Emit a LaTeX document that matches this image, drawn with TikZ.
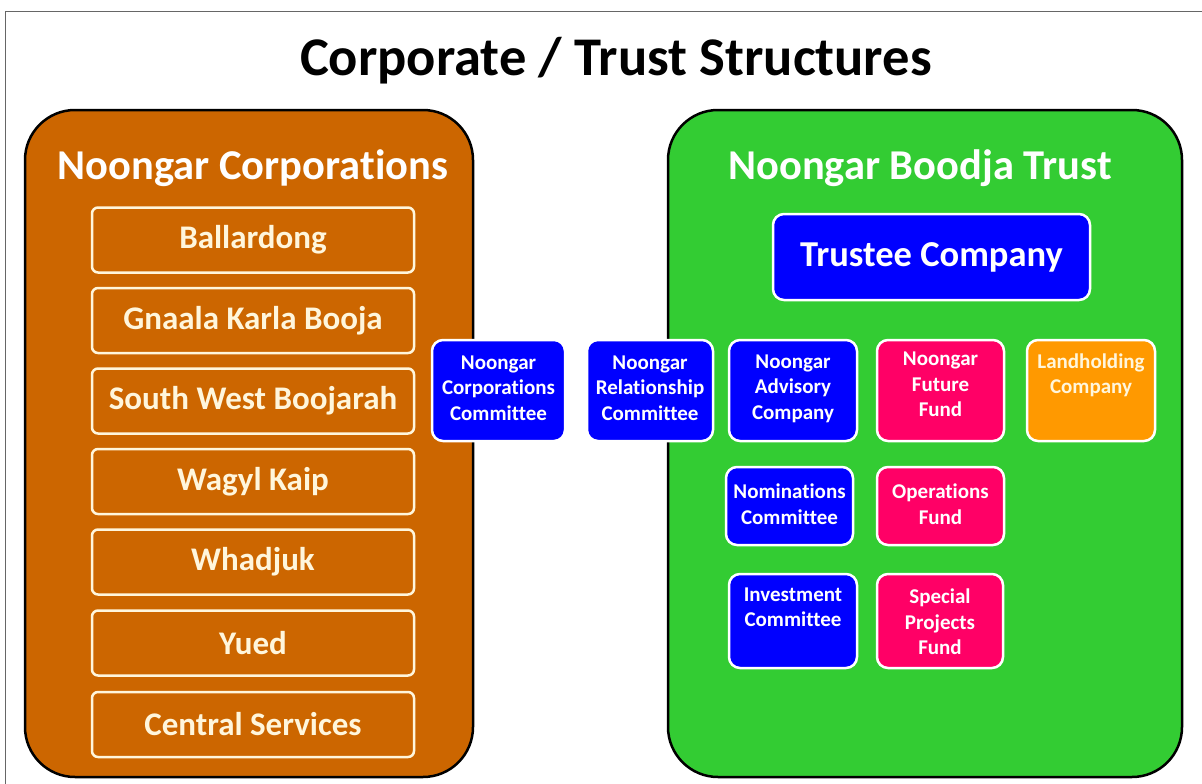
\documentclass[tikz,border=0pt]{standalone}
\usepackage{fontspec}
\setmainfont[Ligatures={NoCommon}]{Carlito}
\definecolor{corpfill}{HTML}{CC6600}
\definecolor{trustfill}{HTML}{33CC33}
\definecolor{bluefill}{HTML}{0000FF}
\definecolor{pinkfill}{HTML}{FF0066}
\definecolor{orangefill}{HTML}{FF9900}
\definecolor{cream}{HTML}{FFF6DC}
\begin{document}
\begin{tikzpicture}[x=1pt,y=-1pt,
  bigbox/.style={draw=black, line width=2.5pt, rounded corners=50pt, inner sep=0pt},
  corpbox/.style={draw=cream, line width=2.5pt, rounded corners=6pt, fill=corpfill,
    minimum width=322pt, minimum height=65pt, inner sep=0pt, text=cream,
    font=\bfseries\fontsize{33}{36}\selectfont},
  smallbox/.style={draw=white, line width=2.5pt, rounded corners=11pt, inner sep=0pt},
  smalltext/.style={text=white, align=center, inner sep=0pt,
    font=\bfseries\fontsize{21}{25.5}\selectfont},
  heading/.style={text=white, inner sep=0pt, font=\bfseries\fontsize{42.5}{46}\selectfont}]
\useasboundingbox (0,0) rectangle (1202,784);
\fill[white] (0,0) rectangle (1202,784);
\draw[black!60, line width=1pt] (5,784) -- (5,12) -- (1202,12);

% title
\node[inner sep=0pt, font=\bfseries\fontsize{54.5}{58}\selectfont] (title) at (616,61) {Corporate / Trust Structures};

% big containers
\node[bigbox, fill=corpfill, minimum width=448pt, minimum height=667pt] (corps) at (249,443.5) {};
\node[bigbox, fill=trustfill, minimum width=514pt, minimum height=667pt] (trust) at (925,443.5) {};

\node[heading] (corpsT) at (253,168) {Noongar Corporations};
\node[heading] (trustT) at (920,168) {Noongar Boodja Trust};

% corporations list
\node[corpbox] (c1) at (253,240) {\raisebox{-2pt}{Ballardong}};
\node[corpbox] (c2) at (253,320.5) {\raisebox{-2pt}{Gnaala Karla Booja}};
\node[corpbox] (c3) at (253,401) {\raisebox{-2pt}{South West Boojarah}};
\node[corpbox] (c4) at (253,481.5) {\raisebox{-2pt}{Wagyl Kaip}};
\node[corpbox] (c5) at (253,562) {\raisebox{-2pt}{Whadjuk}};
\node[corpbox] (c6) at (253,643) {\raisebox{-2pt}{Yued}};
\node[corpbox] (c7) at (253,724.5) {\raisebox{-2pt}{Central Services}};

% trustee company
\node[smallbox, fill=bluefill, minimum width=317pt, minimum height=86pt,
  text=white, font=\bfseries\fontsize{36.5}{40}\selectfont] (trustee) at (931.5,257) {Trustee Company};

% committees between
\node[smallbox, fill=bluefill, minimum width=133pt, minimum height=101pt] (ncc) at (498.5,390.5) {};
\node[smalltext] (nccT) at (498.5,388) {Noongar\\Corporations\\Committee};
\node[smallbox, fill=bluefill, minimum width=126pt, minimum height=101pt] (nrc) at (650,390.5) {};
\node[smalltext] (nrcT) at (650,388) {Noongar\\Relationship\\Committee};

% row 1
\node[smallbox, fill=bluefill, minimum width=128pt, minimum height=101pt] (nac) at (793,390.5) {};
\node[smalltext] (nacT) at (793,388.5) {Noongar\\Advisory\\Company};
\node[smallbox, fill=pinkfill, minimum width=127pt, minimum height=101pt] (nff) at (940.5,390.5) {};
\node[smalltext] (nffT) at (940.5,384.5) {Noongar\\Future\\Fund};
\node[smallbox, fill=orangefill, minimum width=128pt, minimum height=101pt] (land) at (1091,390.5) {};
\node[smalltext, text=cream] (landT) at (1091,375.5) {Landholding\\Company};

% row 2
\node[smallbox, fill=bluefill, minimum width=127pt, minimum height=78pt] (nom) at (789.5,506) {};
\node[smalltext] (nomT) at (789.5,504) {Nominations\\Committee};
\node[smallbox, fill=pinkfill, minimum width=127pt, minimum height=78pt] (ops) at (940.5,506) {};
\node[smalltext] (opsT) at (940.5,504) {Operations\\Fund};

% row 3
\node[smallbox, fill=bluefill, minimum width=128pt, minimum height=94pt] (inv) at (793,621) {};
\node[smalltext] (invT) at (793,607.5) {Investment\\Committee};
\node[smallbox, fill=pinkfill, minimum width=126pt, minimum height=94pt] (spf) at (940,621) {};
\node[smalltext] (spfT) at (940,622) {Special\\Projects\\Fund};
\end{tikzpicture}
\end{document}
